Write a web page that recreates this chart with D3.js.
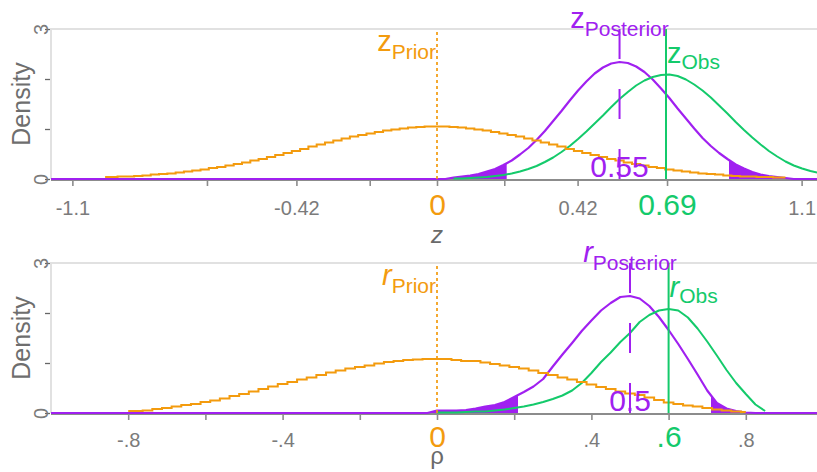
<!DOCTYPE html>
<html>
<head>
<meta charset="utf-8">
<script src="https://cdn.jsdelivr.net/npm/d3@7"></script>
<style>
  body { margin: 0; background: #ffffff; }
  svg { display: block; font-family: "Liberation Sans", Arial, Helvetica, sans-serif; }
</style>
</head>
<body>
<svg id="chart" width="817" height="472"></svg>
<script>
// ---- Fisher z panel -------------------------------------------------------
const zGrid = [-1.175,-1.15,-1.125,-1.1,-1.075,-1.05,-1.025,-1,-0.975,-0.95,-0.925,-0.9,-0.875,-0.85,-0.825,-0.8,-0.775,-0.75,-0.725,-0.7,-0.675,-0.65,-0.625,-0.6,-0.575,-0.55,-0.525,-0.5,-0.475,-0.45,-0.425,-0.4,-0.375,-0.35,-0.325,-0.3,-0.275,-0.25,-0.225,-0.2,-0.175,-0.15,-0.125,-0.1,-0.075,-0.05,-0.025,0,0.025,0.05,0.075,0.1,0.125,0.15,0.175,0.2,0.225,0.25,0.275,0.3,0.325,0.35,0.375,0.4,0.425,0.45,0.475,0.5,0.525,0.55,0.575,0.6,0.625,0.65,0.675,0.7,0.725,0.75,0.775,0.8,0.825,0.85,0.875,0.9,0.925,0.95,0.975,1,1.025,1.05,1.075,1.1,1.125,1.15,1.175];

const zPrior = [null,null,null,null,null,null,null,
  0.04,0.04,0.05,0.05,0.06,0.07,0.09,0.10,0.11,0.13,0.15,0.17,0.19,0.22,0.24,0.27,0.30,0.33,0.37,0.40,0.44,0.48,0.52,0.56,0.60,0.65,0.69,0.73,0.77,0.81,0.85,0.88,0.91,0.94,0.97,0.99,1.01,1.03,1.04,1.05,
  1.05,
  1.05,1.04,1.03,1.01,0.99,0.97,0.94,0.91,0.88,0.85,0.81,0.77,0.73,0.69,0.65,0.60,0.56,0.52,0.48,0.44,0.40,0.37,0.33,0.30,0.27,0.24,0.22,0.19,0.17,0.15,0.13,0.11,0.10,0.09,0.07,0.06,0.05,0.05,0.04,0.04,0.03,0.03,
  null,null,null,null,null];

const zPosterior = [0,0,0,0,0,0,0,0,0,0,0,0,0,0,0,0,0,0,0,0,0,0,0,0,0,0,0,0,0,0,0,0,0,0,0,0,0,0,0,0,0,0,0,0,0,0,0,0,0,
  0.03,0.05,0.07,0.10,0.15,0.20,0.28,0.37,0.49,0.62,0.78,0.96,1.16,1.36,1.57,1.77,1.95,2.11,2.23,2.31,2.34,2.32,2.25,2.14,1.99,1.81,1.62,1.41,1.21,1.01,0.82,0.66,0.52,0.40,0.29,0.21,0.14,0.09,0.06,0.04,0.02,
  0,0,0,0,0];

const zObserved = [null,null,null,null,null,null,null,null,null,null,null,null,null,null,null,null,null,null,null,null,null,null,null,null,null,null,null,null,null,null,null,null,null,null,null,null,null,null,null,null,null,null,null,null,null,null,null,null,null,
  0.01,0.01,0.02,0.03,0.04,0.06,0.08,0.11,0.15,0.20,0.26,0.34,0.43,0.54,0.66,0.80,0.95,1.11,1.27,1.44,1.60,1.74,1.87,1.97,2.04,2.08,2.09,2.06,1.99,1.89,1.77,1.63,1.47,1.31,1.14,0.98,0.83,0.69,0.56,0.45,0.35,0.27,0.21,0.16,0.12,0.09];

const zTicks = [-1.0986,-0.6931,-0.4236,-0.2027,0,0.2027,0.4236,0.6931,1.0986];
const zTickLabels = ["-1.1","","-0.42","","0","","0.42","0.69","1.1"];
const zPriorMean = 0;
const zPosteriorMean = 0.55;
const zObservedValue = 0.69;
const zInterval = [0.21, 0.88];

// ---- correlation (rho) panel ---------------------------------------------
const rhoGrid = [-1,-0.975,-0.95,-0.925,-0.9,-0.875,-0.85,-0.825,-0.8,-0.775,-0.75,-0.725,-0.7,-0.675,-0.65,-0.625,-0.6,-0.575,-0.55,-0.525,-0.5,-0.475,-0.45,-0.425,-0.4,-0.375,-0.35,-0.325,-0.3,-0.275,-0.25,-0.225,-0.2,-0.175,-0.15,-0.125,-0.1,-0.075,-0.05,-0.025,0,0.025,0.05,0.075,0.1,0.125,0.15,0.175,0.2,0.225,0.25,0.275,0.3,0.325,0.35,0.375,0.4,0.425,0.45,0.475,0.5,0.525,0.55,0.575,0.6,0.625,0.65,0.675,0.7,0.725,0.75,0.775,0.8,0.825,0.85,0.875,0.9,0.925,0.95,0.975,1];

const rhoPrior = [null,null,null,null,null,null,null,null,
  0.04,0.04,0.05,0.08,0.10,0.13,0.16,0.18,0.22,0.25,0.29,0.34,0.38,0.43,0.48,0.53,0.58,0.62,0.67,0.71,0.76,0.81,0.85,0.89,0.92,0.95,0.99,1.02,1.04,1.06,1.07,1.08,
  1.08,
  1.08,1.06,1.04,1.04,1.01,0.98,0.95,0.92,0.89,0.85,0.80,0.76,0.71,0.67,0.62,0.57,0.52,0.48,0.43,0.39,0.36,0.31,0.26,0.21,0.18,0.15,0.13,0.10,0.07,0.05,0.03,0.02,
  null,null,null,null,null,null,null,null];

const rhoPosterior = [0,0,0,0,0,0,0,0,0,0,0,0,0,0,0,0,0,0,0,0,0,0,0,0,0,0,0,0,0,0,0,0,0,0,0,0,0,0,0,0,
  0.05,0.05,0.05,0.06,0.09,0.13,0.16,0.22,0.32,0.42,0.53,0.68,0.93,1.17,1.40,1.64,1.85,2.05,2.20,2.32,2.34,2.29,2.14,1.92,1.66,1.38,1.08,0.77,0.45,0.20,0.09,0.04,0.01,
  0,0,0,0,0,0,0,0];

const rhoObserved = [null,null,null,null,null,null,null,null,null,null,null,null,null,null,null,null,null,null,null,null,null,null,null,null,null,null,null,null,null,null,null,null,null,null,null,null,null,null,null,null,
  0.01,0.01,0.01,0.02,0.03,0.03,0.05,0.07,0.10,0.13,0.17,0.22,0.28,0.35,0.45,0.60,0.80,1.02,1.21,1.42,1.60,1.82,1.96,2.05,2.08,2.05,1.91,1.69,1.43,1.15,0.86,0.60,0.38,0.17,0.04,
  null,null,null,null,null,null];

const rhoTicks = [-0.8,-0.6,-0.4,-0.2,0,0.2,0.4,0.6,0.8];
const rhoTickLabels = ["-.8","","-.4","","0","",".4",".6",".8"];
const rhoPriorMean = 0;
const rhoPosteriorMean = 0.5;
const rhoObservedValue = 0.6;
const rhoInterval = [0.21, 0.71];

const densityTicks = [0, 1, 2, 3];
const densityTickLabels = ["0", "", "", "3"];

// ---- drawing ---------------------------------------------------------------
const WIDTH = 817;
const COL = {
  prior: "#F39B0E",
  post: "#A020F0",
  obs: "#14CA6B",
  frame: "#e1e1e1",
  axis: "#8c8c8c",
  tick: "#666666",
  label: "#7b7b7b"
};
const PLOT_LEFT = 51, PLOT_RIGHT = 823;

const svg = d3.select("#chart");
const defs = svg.append("defs");

function drawPanel(p) {
  const x = d3.scaleLinear().domain(p.domain).range([PLOT_LEFT, PLOT_RIGHT]);
  const y = d3.scaleLinear().domain([0, 3]).range([p.base, p.base - 150]);
  const g = svg.append("g");

  const rows = (vals) => p.grid.map((v, i) => [v, vals[i]]);
  const prior = rows(p.prior), post = rows(p.post), obs = rows(p.obs);

  // clip region for everything inside the plotting area
  const clipId = "plot-" + p.id;
  defs.append("clipPath").attr("id", clipId)
    .append("rect").attr("x", PLOT_LEFT).attr("y", y(3) - 2)
    .attr("width", WIDTH - PLOT_LEFT).attr("height", y(0) - y(3) + 4);

  // frame: light top rule and left rule
  g.append("line").attr("x1", PLOT_LEFT).attr("x2", WIDTH)
    .attr("y1", y(3)).attr("y2", y(3))
    .attr("stroke", COL.frame).attr("stroke-width", 2);
  g.append("line").attr("x1", PLOT_LEFT).attr("x2", PLOT_LEFT)
    .attr("y1", y(3) - 1).attr("y2", y(0))
    .attr("stroke", COL.frame).attr("stroke-width", 2);

  // density axis
  const yAxis = g.append("g").attr("transform", `translate(${PLOT_LEFT - 1},0)`)
    .call(d3.axisLeft(y).tickValues(densityTicks).tickSize(5)
      .tickFormat((d, i) => densityTickLabels[i]));
  yAxis.select(".domain").remove();
  yAxis.selectAll(".tick line").attr("stroke", COL.tick).attr("stroke-width", 1.3);
  yAxis.selectAll(".tick text")
    .attr("transform", "rotate(-90)")
    .attr("x", 0).attr("y", -2).attr("dy", 0)
    .attr("text-anchor", "middle")
    .attr("fill", COL.label)
    .style("font-size", "20px");

  g.append("text")
    .attr("transform", `translate(30,${(y(0) + y(3)) / 2}) rotate(-90)`)
    .attr("text-anchor", "middle")
    .attr("fill", "#6e6e6e")
    .style("font-size", "25px")
    .text("Density");

  // baseline and bottom axis
  g.append("line").attr("x1", PLOT_LEFT).attr("x2", WIDTH)
    .attr("y1", y(0) + 1).attr("y2", y(0) + 1)
    .attr("stroke", COL.axis).attr("stroke-width", 2);

  const xAxis = g.append("g").attr("transform", `translate(0,${y(0) + 1})`)
    .call(d3.axisBottom(x).tickValues(p.ticks).tickSize(6)
      .tickFormat((d, i) => p.tickLabels[i]));
  xAxis.select(".domain").remove();
  xAxis.selectAll(".tick line").attr("stroke", COL.axis).attr("stroke-width", 1.6);
  xAxis.selectAll(".tick text")
    .attr("y", p.labelDrop).attr("dy", 0)
    .each(function (d, i) {
      const lab = p.tickLabels[i];
      const t = d3.select(this);
      if (d === p.priorMean) {
        t.attr("fill", COL.prior).style("font-size", "30px");
      } else if (lab === p.obsLabel) {
        t.attr("fill", COL.obs).style("font-size", "30px");
      } else {
        t.attr("fill", COL.label).style("font-size", "20px");
      }
    });

  g.append("text")
    .attr("x", x(0)).attr("y", p.titleY)
    .attr("text-anchor", "middle")
    .attr("fill", "#6a6a6a")
    .style("font-size", "24px")
    .style("font-style", p.titleItalic ? "italic" : "normal")
    .text(p.title);

  // curves
  const plot = g.append("g").attr("clip-path", `url(#${clipId})`);

  const area = d3.area()
    .defined(d => d[1] != null)
    .x(d => x(d[0])).y0(y(0)).y1(d => y(d[1]));

  // shaded tails of the posterior outside the interval
  const tailLo = "tailLo-" + p.id, tailHi = "tailHi-" + p.id;
  defs.append("clipPath").attr("id", tailLo).append("rect")
    .attr("x", PLOT_LEFT).attr("y", y(3))
    .attr("width", x(p.interval[0]) - PLOT_LEFT).attr("height", y(0) - y(3));
  defs.append("clipPath").attr("id", tailHi).append("rect")
    .attr("x", x(p.interval[1])).attr("y", y(3))
    .attr("width", WIDTH - x(p.interval[1])).attr("height", y(0) - y(3));
  plot.append("path").datum(post).attr("d", area)
    .attr("fill", COL.post).attr("clip-path", `url(#${tailLo})`);
  plot.append("path").datum(post).attr("d", area)
    .attr("fill", COL.post).attr("clip-path", `url(#${tailHi})`);

  const line = d3.line().defined(d => d[1] != null)
    .x(d => x(d[0])).y(d => y(d[1]));
  const stepLine = d3.line().defined(d => d[1] != null)
    .x(d => x(d[0])).y(d => y(d[1])).curve(d3.curveStep);

  plot.append("path").datum(post).attr("d", line)
    .attr("fill", "none").attr("stroke", COL.post).attr("stroke-width", 2.2)
    .attr("stroke-linejoin", "round");
  plot.append("path").datum(obs).attr("d", line)
    .attr("fill", "none").attr("stroke", COL.obs).attr("stroke-width", 2)
    .attr("stroke-linejoin", "round");
  plot.append("path").datum(prior).attr("d", stepLine)
    .attr("fill", "none").attr("stroke", COL.prior).attr("stroke-width", 2);

  // posterior mean value
  g.append("text")
    .attr("x", x(p.postMean)).attr("y", y(0) - 2)
    .attr("text-anchor", "middle")
    .attr("fill", COL.post)
    .style("font-size", "30px")
    .text(p.postLabel);

  // reference lines
  g.append("line").attr("x1", x(p.priorMean)).attr("x2", x(p.priorMean))
    .attr("y1", y(3) + 3).attr("y2", y(0))
    .attr("stroke", COL.prior).attr("stroke-width", 1.7)
    .attr("stroke-dasharray", "3,3");
  g.append("line").attr("x1", x(p.postMean)).attr("x2", x(p.postMean))
    .attr("y1", y(3)).attr("y2", y(0))
    .attr("stroke", COL.post).attr("stroke-width", 2)
    .attr("stroke-dasharray", "30,30");
  g.append("line").attr("x1", x(p.obsValue)).attr("x2", x(p.obsValue))
    .attr("y1", y(3)).attr("y2", y(0))
    .attr("stroke", COL.obs).attr("stroke-width", 2);

  // series labels with subscripts
  function seriesLabel(xPos, yPos, anchor, color, sub, dySub) {
    const t = g.append("text")
      .attr("x", xPos).attr("y", yPos)
      .attr("text-anchor", anchor)
      .attr("fill", color);
    t.append("tspan")
      .style("font-size", "29px")
      .style("font-style", p.letterItalic ? "italic" : "normal")
      .text(p.letter);
    t.append("tspan")
      .attr("dy", dySub)
      .style("font-size", "21px")
      .text(sub);
  }
  seriesLabel(x(p.priorMean) - 1, y(3) + 22, "end", COL.prior, "Prior", 8);
  seriesLabel(x(p.postMean), y(3) - 1, "middle", COL.post, "Posterior", 7.5);
  seriesLabel(x(p.obsValue) + 1, y(3) + 34, "start", COL.obs, "Obs", 5.5);
}

drawPanel({
  id: "z", domain: [-1.163, 1.163], base: 179,
  grid: zGrid, prior: zPrior, post: zPosterior, obs: zObserved,
  ticks: zTicks, tickLabels: zTickLabels, labelDrop: 35,
  priorMean: zPriorMean, postMean: zPosteriorMean, obsValue: zObservedValue,
  obsLabel: "0.69", postLabel: "0.55", interval: zInterval,
  letter: "z", letterItalic: false, title: "z", titleItalic: true, titleY: 243
});

drawPanel({
  id: "rho", domain: [-1, 1], base: 413,
  grid: rhoGrid, prior: rhoPrior, post: rhoPosterior, obs: rhoObserved,
  ticks: rhoTicks, tickLabels: rhoTickLabels, labelDrop: 33,
  priorMean: rhoPriorMean, postMean: rhoPosteriorMean, obsValue: rhoObservedValue,
  obsLabel: ".6", postLabel: "0.5", interval: rhoInterval,
  letter: "r", letterItalic: true, title: "ρ", titleItalic: false, titleY: 464
});
</script>
</body>
</html>
